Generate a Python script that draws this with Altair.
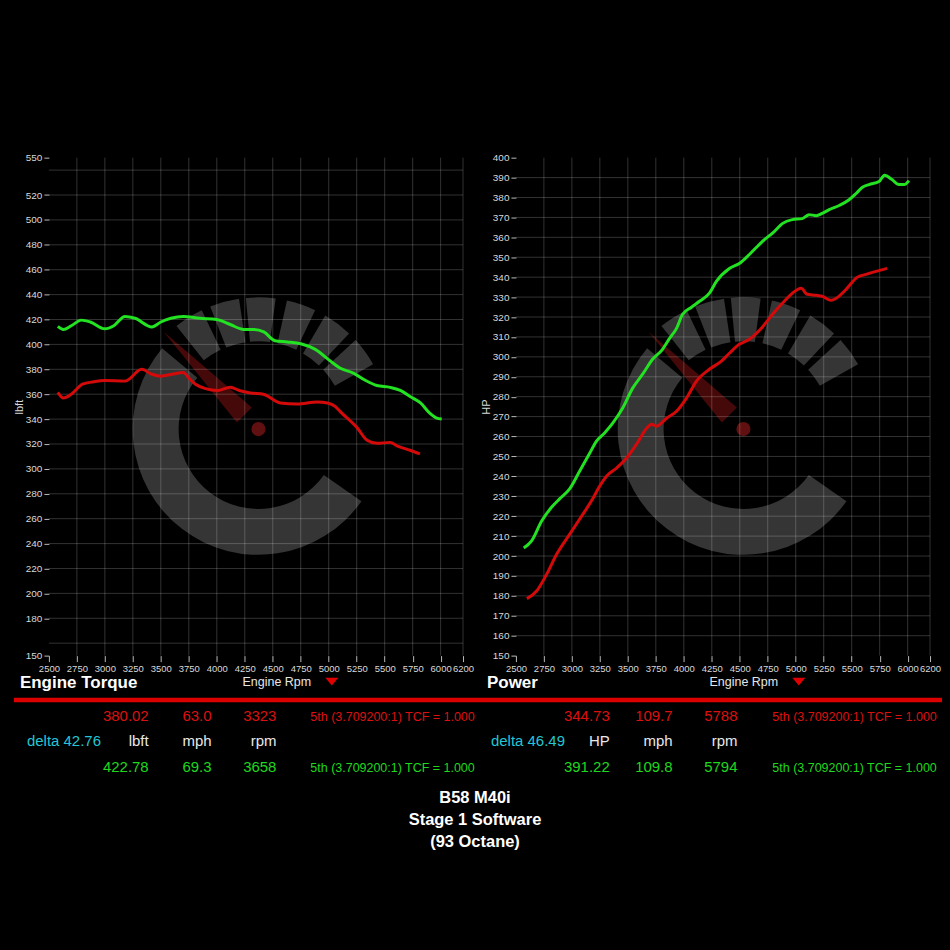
import math
import altair as alt
import pandas as pd

# ---------------- data ----------------
torque_green_rpm = [2580, 2630, 2700, 2790, 2870, 3000, 3080, 3180, 3270, 3420, 3500, 3590, 3700, 3850,
                    4000, 4120, 4240, 4330, 4420, 4520, 4630, 4750, 4880, 5010, 5100, 5220, 5330, 5430,
                    5550, 5640, 5730, 5820, 5900, 5960, 6010]
torque_green = [414.5, 412, 415, 419.5, 418, 412.5, 415, 422.5, 421, 414, 418, 421, 422.5, 421,
                420, 416, 412, 412, 410, 403, 402, 400.5, 396, 387, 381, 377, 371, 367,
                365.5, 363, 358, 353, 345, 341, 340]

torque_red_rpm = [2580, 2630, 2700, 2800, 2900, 3000, 3180, 3330, 3420, 3500, 3600, 3700, 3760, 3810,
                  3900, 4006, 4122, 4200, 4300, 4416, 4568, 4719, 4897, 4990, 5060, 5103, 5254, 5343,
                  5432, 5548, 5610, 5727, 5815]
torque_red = [361.5, 357, 360, 368, 370, 371, 370.5, 380, 376, 374.5, 376, 377.5, 372, 368,
              364.5, 363, 365.6, 363, 361, 360, 353, 352.2, 353.8, 353, 350, 346, 333, 323,
              320.5, 321.3, 318.5, 315, 312]

hp_green_rpm = [2570, 2640, 2730, 2820, 2890, 2980, 3070, 3160, 3220, 3290, 3365, 3454, 3543, 3632,
                3721, 3810, 3873, 3935, 3988, 4069, 4140, 4229, 4291, 4407, 4496, 4586, 4701, 4808,
                4880, 4969, 5058, 5120, 5183, 5236, 5299, 5388, 5477, 5539, 5593, 5655, 5744, 5794,
                5860, 5922, 5970, 6011]
hp_green = [204, 207.6, 217.6, 224.6, 228.7, 233.7, 242.7, 251.7, 257.7, 261.7, 266.7, 274.3, 284.3, 291.3,
            298.8, 303.8, 309.3, 314.3, 321.3, 324.9, 327.9, 332, 337.9, 344.4, 346.9, 351.4, 357.9, 362.9,
            366.9, 368.9, 369.4, 371.4, 370.9, 372, 373.9, 376, 378.9, 382, 385, 386.5, 388, 391.2,
            389, 386.5, 386.5, 388.5]

hp_red_rpm = [2598, 2687, 2776, 2865, 2981, 3070, 3186, 3249, 3311, 3400, 3489, 3578, 3668, 3712,
              3757, 3846, 3935, 4024, 4113, 4229, 4336, 4407, 4496, 4586, 4693, 4791, 4898, 4969,
              5049, 5102, 5183, 5236, 5316, 5361, 5450, 5548, 5628, 5717, 5816]
hp_red = [178.6, 182.6, 191, 201, 211, 218.6, 228.7, 235.2, 240.2, 244.2, 249.2, 256.2, 264.2, 266.2,
          265.2, 269.2, 272.7, 279.3, 287.8, 293.8, 297.8, 301.8, 306.3, 308.8, 314.3, 321.3, 327.9, 331.9,
          334.4, 331.4, 330.9, 330.4, 328.4, 329.4, 333.9, 339.9, 341.4, 342.9, 344.4]

rpm_ticks = [2500, 2750, 3000, 3250, 3500, 3750, 4000, 4250, 4500, 4750, 5000, 5250, 5500, 5750, 6000, 6200]
rpm_grid = [2750, 3000, 3250, 3500, 3750, 4000, 4250, 4500, 4750, 5000, 5250, 5500, 5750, 6000, 6200]
torque_ticks = [150, 180, 200, 220, 240, 260, 280, 300, 320, 340, 360, 380, 400, 420, 440, 460, 480, 500, 520, 550]
torque_grid = [160, 180, 200, 220, 240, 260, 280, 300, 320, 340, 360, 380, 400, 420, 440, 460, 480, 500, 520, 540]
hp_ticks = [150, 160, 170, 180, 190, 200, 210, 220, 230, 240, 250, 260, 270, 280, 290, 300, 310, 320, 330,
            340, 350, 360, 370, 380, 390, 400]
hp_grid = [160, 170, 180, 190, 200, 210, 220, 230, 240, 250, 260, 270, 280, 290, 300, 310, 320, 330,
           340, 350, 360, 370, 380, 390]

torque_red_read = ["380.02", "63.0", "3323"]
torque_green_read = ["422.78", "69.3", "3658"]
torque_units = ["lbft", "mph", "rpm"]
torque_delta = "delta 42.76"
power_red_read = ["344.73", "109.7", "5788"]
power_green_read = ["391.22", "109.8", "5794"]
power_units = ["HP", "mph", "rpm"]
power_delta = "delta 46.49"
gear_text = "5th (3.709200:1) TCF = 1.000"
footer = ["B58 M40i", "Stage 1 Software", "(93 Octane)"]

# ---------------- style ----------------
GREEN = "#22e222"
RED = "#d40a0a"
TXT_GREEN = "#1ed81e"
TXT_RED = "#dd1010"
CYAN = "#22c6d6"
LOGO = "#353535"
NEEDLE = "#5e0c0c"
LABEL = "#d8d8d8"
SANS = "Liberation Sans, Arial, sans-serif"

W, H = 415, 499
ONE = alt.Data(values=[{}])
XS = alt.Scale(domain=[2500, 6200], nice=False, zero=False)


def x_axis():
    return alt.Axis(values=rpm_ticks, format="d", title=None, grid=False, domain=False,
                    tickSize=6, tickColor="#bbbbbb", labelColor=LABEL, labelFont=SANS,
                    labelFontSize=9.5, labelPadding=2, labelFlush=False, labelOverlap=False,
                    zindex=2)


def y_axis(ticks, title):
    return alt.Axis(values=ticks, format="d", title=title, grid=False, domain=False,
                    tickSize=5, tickColor="#bbbbbb", labelColor=LABEL, labelFont=SANS,
                    labelFontSize=10, labelPadding=2, labelFlush=False, labelOverlap=False,
                    titleX=-29, titleY=H / 2, titleAngle=270, titleAlign="center",
                    titleBaseline="middle", titleFont=SANS, titleFontSize=11,
                    titleFontWeight="normal", titleColor=LABEL, zindex=2)


def txt(s, x, y, color, size, align="left", weight="normal", font=SANS):
    return alt.Chart(ONE).mark_text(
        text=s, align=align, baseline="alphabetic", color=color,
        fontSize=size, fontWeight=weight, font=font
    ).encode(x=alt.value(x), y=alt.value(y))


def arc(cx, cy, t1, t2, r_out, r_in, color):
    return alt.Chart(ONE).mark_arc(
        theta=math.radians(t1), theta2=math.radians(t2),
        radius=r_out, radius2=r_in, color=color, strokeWidth=0
    ).encode(x=alt.value(cx), y=alt.value(cy))


NEEDLE_PATH = "M -0.066 -0.216 L -0.95 -0.976 L -0.216 -0.066 Z"
TRI_PATH = "M -1 -0.6 L 1 -0.6 L 0 0.6 Z"


def logo(cx, cy):
    layers = [arc(cx, cy, 125, 310, 126, 80, LOGO)]
    for c in [-32, -15, 1, 19, 37, 54]:
        a = c + 360 if c - 6.5 < 0 else c
        layers.append(arc(cx, cy, a - 6.5, a + 6.5, 132, 88, LOGO))
    layers.append(alt.Chart(ONE).mark_point(
        shape=NEEDLE_PATH, size=40000, filled=True, color=NEEDLE, opacity=0.75, strokeWidth=0
    ).encode(x=alt.value(cx), y=alt.value(cy)))
    layers.append(alt.Chart(ONE).mark_point(
        shape="circle", size=200, filled=True, color="#6a1212", opacity=0.9, strokeWidth=0
    ).encode(x=alt.value(cx), y=alt.value(cy)))
    return layers


def panel(g_rpm, g_val, r_rpm, r_val, ydom, yticks, ygrid, ytitle, title,
          red_read, green_read, units, delta, cx, cols, gear_x, delta_x, extra=None):
    ys = alt.Scale(domain=ydom, nice=False, zero=False)
    layers = []
    if extra:
        layers += extra[0]
    layers += logo(cx, 272)

    vgrid = alt.Chart(pd.DataFrame({"rpm": rpm_grid})).mark_rule(
        color="white", opacity=0.2, strokeWidth=1
    ).encode(x=alt.X("rpm:Q", scale=XS, axis=x_axis()), y=alt.value(0), y2=alt.value(H))
    hgrid = alt.Chart(pd.DataFrame({"val": ygrid})).mark_rule(
        color="white", opacity=0.2, strokeWidth=1
    ).encode(y=alt.Y("val:Q", scale=ys, axis=y_axis(yticks, ytitle)), x=alt.value(0), x2=alt.value(W))
    layers += [vgrid, hgrid]

    df = pd.DataFrame({
        "rpm": g_rpm + r_rpm,
        "val": g_val + r_val,
        "run": ["green"] * len(g_rpm) + ["red"] * len(r_rpm),
    })
    lines = alt.Chart(df).mark_line(strokeWidth=3, interpolate="monotone").encode(
        x=alt.X("rpm:Q", scale=XS, axis=x_axis()),
        y=alt.Y("val:Q", scale=ys, axis=y_axis(yticks, ytitle)),
        color=alt.Color("run:N", scale=alt.Scale(domain=["green", "red"], range=[GREEN, RED]), legend=None),
        detail="run:N",
    )
    layers.append(lines)

    layers.append(txt(title, -29, 531, "white", 17, weight="bold"))
    layers.append(txt("Engine Rpm", 194, 529, "#e6e6e6", 12.5))
    layers.append(alt.Chart(ONE).mark_point(
        shape=TRI_PATH, size=169, filled=True, color="#e00000", opacity=1, strokeWidth=0
    ).encode(x=alt.value(283.5), y=alt.value(525)))

    for s, x in zip(red_read, cols):
        layers.append(txt(s, x, 565, TXT_RED, 15, align="right"))
    for s, x in zip(units, cols):
        layers.append(txt(s, x, 590, "#e8e8e8", 15, align="right"))
    for s, x in zip(green_read, cols):
        layers.append(txt(s, x, 616, TXT_GREEN, 15, align="right"))
    layers.append(txt(gear_text, gear_x, 565, TXT_RED, 12.5))
    layers.append(txt(gear_text, gear_x, 616, TXT_GREEN, 12.5))
    layers.append(txt(delta, delta_x, 590, CYAN, 15))
    if extra:
        layers += extra[1]
    return alt.layer(*layers).properties(width=W, height=H)


background = alt.Chart(ONE).mark_rect(color="black").encode(
    x=alt.value(-48), x2=alt.value(902), y=alt.value(-156), y2=alt.value(794))
separator = alt.Chart(ONE).mark_rule(color="#dc0000", strokeWidth=4.5).encode(
    x=alt.value(-35), x2=alt.value(895), y=alt.value(543.5))
footer_layers = [txt(s, 427, y, "white", 16.5, align="center", weight="bold")
                 for s, y in zip(footer, [647, 669, 691])]

left = panel(torque_green_rpm, torque_green, torque_red_rpm, torque_red, [150, 550],
             torque_ticks, torque_grid, "lbft", "Engine Torque",
             torque_red_read, torque_green_read, torque_units, torque_delta,
             210, [100, 163, 228], 262, -22,
             extra=([background], [separator] + footer_layers))
right = panel(hp_green_rpm, hp_green, hp_red_rpm, hp_red, [150, 400],
              hp_ticks, hp_grid, "HP", "Power",
              power_red_read, power_green_read, power_units, power_delta,
              228, [94, 157, 222], 257, -25)

chart = alt.hconcat(left, right, spacing=53, bounds="flush").properties(
    background="black", padding=0
).configure_view(stroke="transparent")

chart.save("out.html", embed_options={"renderer": "svg", "actions": False})
